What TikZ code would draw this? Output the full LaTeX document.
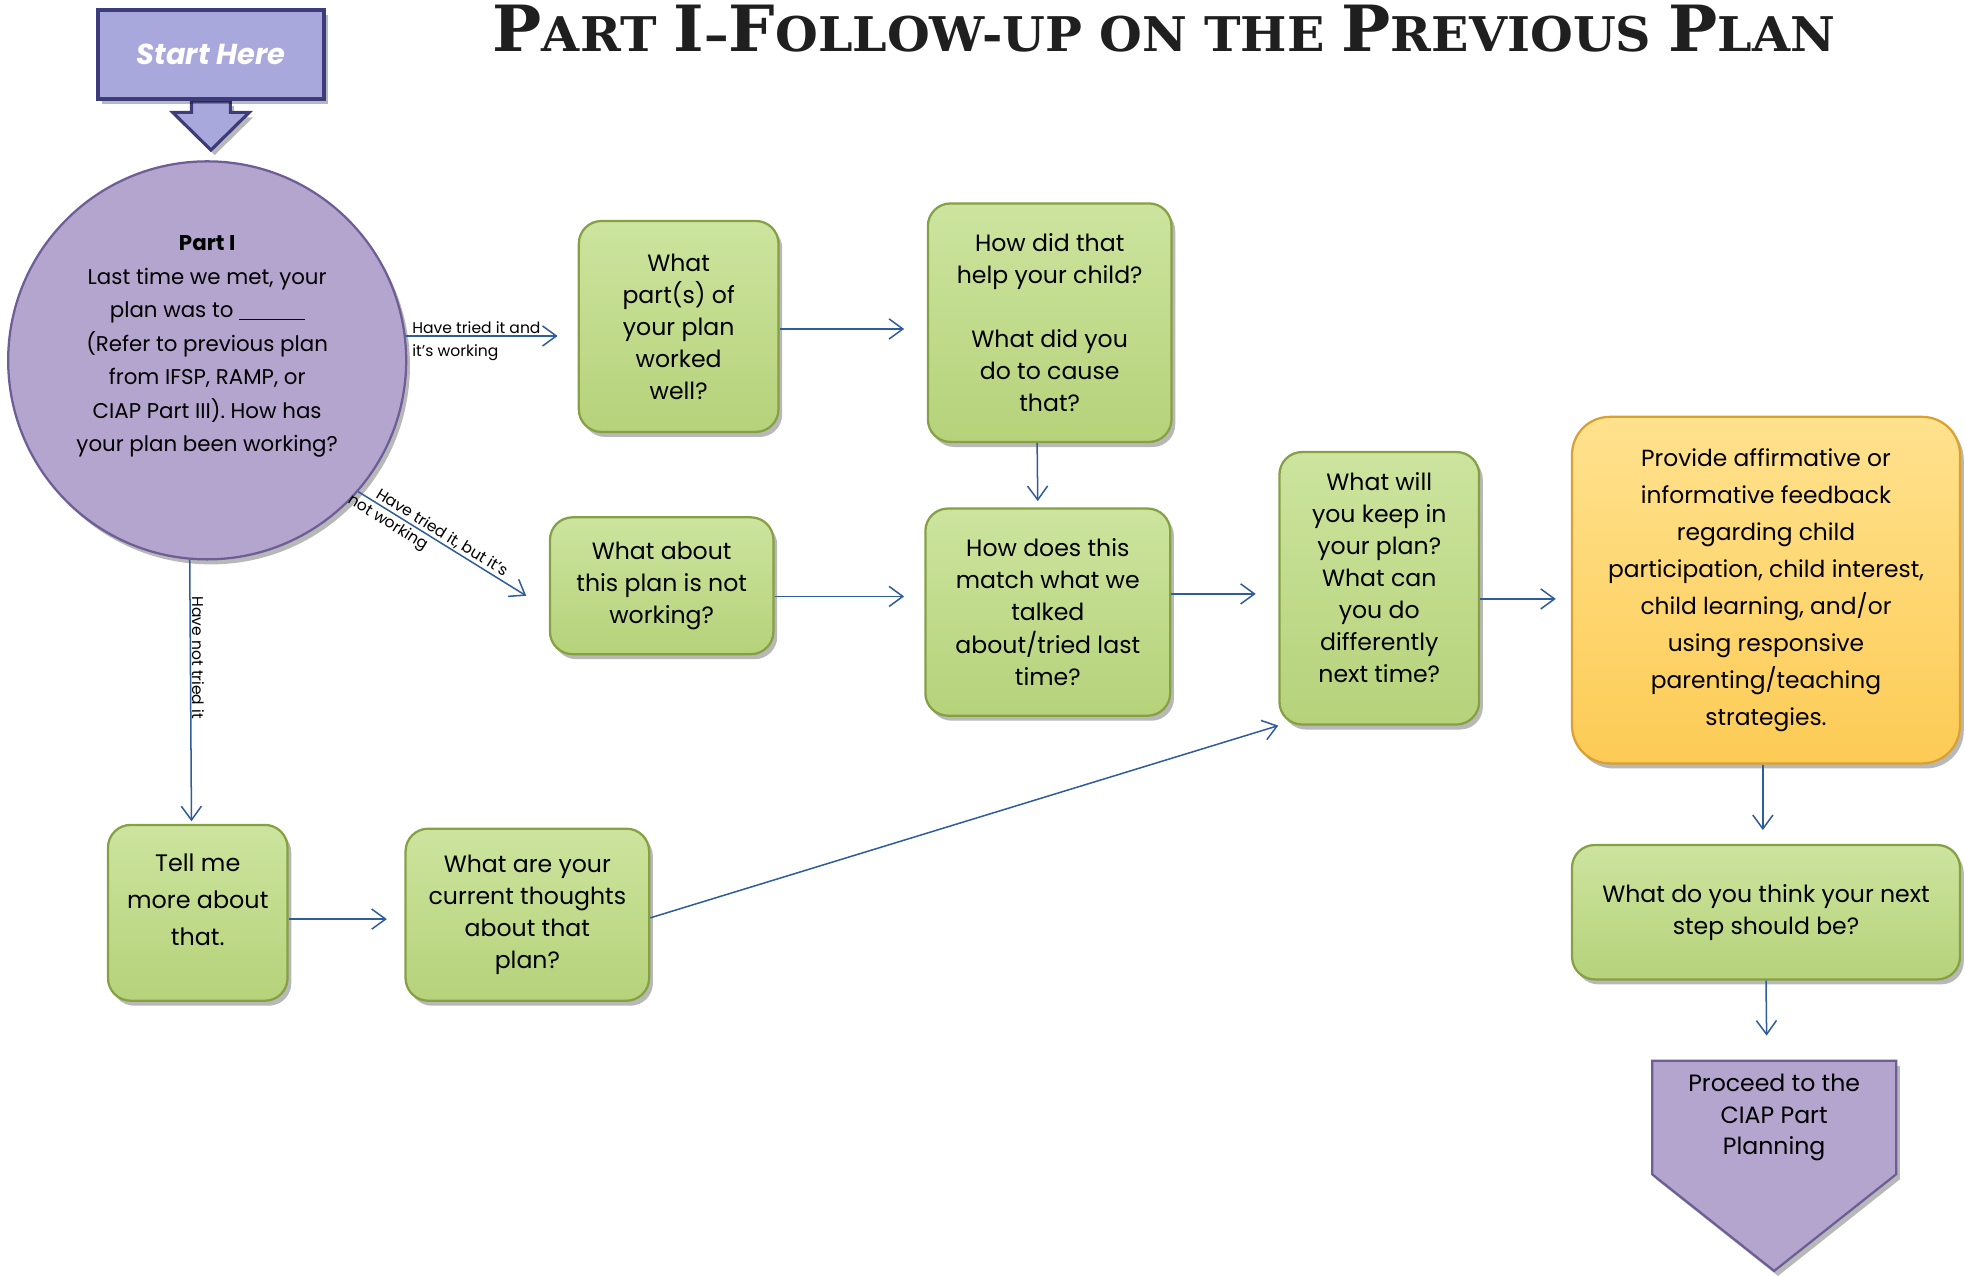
\documentclass[tikz,border=0pt]{standalone}
\usepackage{fontspec}
\usepackage{graphicx}
\setmainfont{Poppins}
\newfontfamily\titlefont{DejaVu Serif}
\usetikzlibrary{arrows.meta,shadows,backgrounds,calc}
\definecolor{lineblue}{HTML}{2F5C9A}
\definecolor{gtop}{HTML}{CCE49E}
\definecolor{gbot}{HTML}{B6D27A}
\definecolor{gborder}{HTML}{86A044}
\definecolor{otop}{HTML}{FFE28E}
\definecolor{obot}{HTML}{FDCB55}
\definecolor{oborder}{HTML}{D9A032}
\definecolor{pfill}{HTML}{B4A5CE}
\definecolor{pborder}{HTML}{6E5E96}
\definecolor{sfill}{HTML}{A8A8DC}
\definecolor{sborder}{HTML}{3C3C7A}
\newcommand\bigc[1]{{\fontsize{40}{40}\selectfont #1}}
\begin{document}
\begin{tikzpicture}[x=1pt,y=-1pt,
  shad/.style={drop shadow={shadow xshift=3pt,shadow yshift=-4pt,fill=black,opacity=0.28}},
  gbox/.style={shad,rectangle,rounded corners=18pt,top color=gtop,bottom color=gbot,
    draw=gborder,line width=1.8pt,align=center,inner sep=4pt,
    font=\fontsize{18.8}{25.5}\selectfont},
  obox/.style={shad,rectangle,rounded corners=30pt,top color=otop,bottom color=obot,
    draw=oborder,line width=1.8pt,align=center,inner sep=4pt,
    font=\fontsize{18.6}{29.5}\selectfont},
  arr/.style={draw=lineblue,line width=1.2pt,-{Straight Barb[length=11pt,width=16pt]}},
  lbl/.style={font=\fontsize{12.4}{15}\selectfont,inner sep=1pt}
]
\useasboundingbox (0,0) rectangle (1565,1015.5);

% title
\node[text=black!88] (title) at (927,23) {\resizebox{1069pt}{37pt}{\titlefont\bfseries\fontsize{30}{30}\selectfont \bigc{P}ART \bigc{I}–\bigc{F}OLLOW-UP ON THE \bigc{P}REVIOUS \bigc{P}LAN}};

% start here
\node[shad,rectangle,fill=sfill,draw=sborder,line width=3pt,minimum width=180pt,minimum height=71pt,
  text=white,font=\fontsize{23}{23}\selectfont\bfseries\itshape] (start) at (168,43.5) {Start Here};
\begin{scope}[on background layer]
\filldraw[fill=sfill,draw=sborder,line width=2.5pt,line join=miter,shad]
  ($(start.south)+(-15.5,0)$) -- ++(0,9) -- ++(-15,0) -- ($(start.south)+(0,39)$)
  -- ($(start.south)+(30.5,9)$) -- ++(-15,0) -- ($(start.south)+(15.5,0)$) -- cycle;
\end{scope}

% Part I circle
\node[shad,circle,minimum size=317pt,fill=pfill,draw=pborder,line width=1.8pt,align=center,
  font=\fontsize{17}{26.7}\selectfont] (P) at (165,287)
  {{\bfseries Part I}\\Last time we met, your\\plan was to \rule[-2pt]{52pt}{0.8pt}\\(Refer to previous plan\\from IFSP, RAMP, or\\CIAP Part III). How has\\your plan been working?\\[0pt]\mbox{}};

% green boxes
\node[gbox,minimum width=159pt,minimum height=168pt] (G1) at (540.5,260)
  {What\\part(s) of\\your plan\\worked\\well?};
\node[gbox,minimum width=194pt,minimum height=190pt] (G2) at (836,257)
  {How did that\\help your child?\\[25.5pt]What did you\\do to cause\\that?};
\node[gbox,minimum width=178pt,minimum height=109pt] (G3) at (527,466.5)
  {What about\\this plan is not\\working?};
\node[gbox,minimum width=195pt,minimum height=165pt] (G4) at (834.5,487.5)
  {How does this\\match what we\\talked\\about/tried last\\time?};
\node[gbox,minimum width=159pt,minimum height=217pt] (G5) at (1098.5,468.5)
  {What will\\you keep in\\your plan?\\What can\\you do\\differently\\next time?\\[-8pt]\mbox{}};
\node[obox,minimum width=309pt,minimum height=276pt] (O) at (1406.5,470)
  {Provide affirmative or\\informative feedback\\regarding child\\participation, child interest,\\child learning, and/or\\using responsive\\parenting/teaching\\strategies.};
\node[gbox,minimum width=309pt,minimum height=107pt] (G6) at (1406.5,726.5)
  {What do you think your next\\step should be?};
\node[gbox,minimum width=143pt,minimum height=140pt,font=\fontsize{19}{29.5}\selectfont] (G7) at (157.5,727)
  {Tell me\\more about\\that.\\[-8pt]\mbox{}};
\node[gbox,minimum width=194pt,minimum height=137pt] (G8) at (420,728.5)
  {What are your\\current thoughts\\about that\\plan?};

% proceed
\node[minimum width=194pt,minimum height=90pt,align=center,
  font=\fontsize{18.8}{25}\selectfont] (proc) at (1413,890)
  {Proceed to the\\CIAP Part\\Planning};
\begin{scope}[on background layer]
\filldraw[shad,fill=pfill,draw=pborder,line width=1.8pt]
  (proc.north west) -- (proc.north east) -- (proc.south east) -- ($(proc.south)+(0,77)$)
  -- (proc.south west) -- cycle;
\end{scope}

% connectors
\coordinate (e1) at ($(G1.west |- P.7)+(-16,0)$);
\draw[arr] (P.7) -- (e1);
\node[lbl,anchor=south west] (l1a) at ($(P.7)+(4,-0.5)$) {Have tried it and};
\node[lbl,anchor=north west] (l1b) at ($(P.7)+(4,6)$) {it's working};

\coordinate (e2) at ($(G3.west)+(-18,8)$);
\draw[arr] (P.-41) -- node[lbl,sloped,above,pos=0.47] (l2a) {Have tried it, but it's}
  node[lbl,sloped,below=1pt,pos=0.21] (l2b) {not working} (e2);

\coordinate (e3) at ($(G7.north)+(-5,-2)$);
\draw[arr] (P.265) -- node[lbl,sloped,above,pos=0.375] (l3) {Have not tried it} (e3);

\draw[arr] ($(G1.east)+(0,2)$) -- ($(G2.west)+(-18,5)$);
\draw[arr] ($(G2.south)+(-10,0)$) -- ($(G4.north)+(-8,-5)$);
\draw[arr] ($(G3.east)+(0,8.5)$) -- ($(G4.west)+(-16,-12.5)$);
\draw[arr] ($(G4.east)+(0,-14.5)$) -- ($(G5.west)+(-18,4.5)$);
\draw[arr] ($(G5.east)+(0,8.5)$) -- ($(O.west)+(-12,7)$);
\draw[arr] ($(O.south)+(-2.5,0)$) -- ($(G6.north)+(-2.5,-11)$);
\draw[arr] (G6.south) -- ($(proc.north)+(-6,-20)$);
\draw[arr] ($(G7.east)+(0,5)$) -- ($(G8.west)+(-14,3.5)$);
\draw[arr] ($(G8.east)+(0,2.5)$) -- (G5.south west);
\end{tikzpicture}
\end{document}
